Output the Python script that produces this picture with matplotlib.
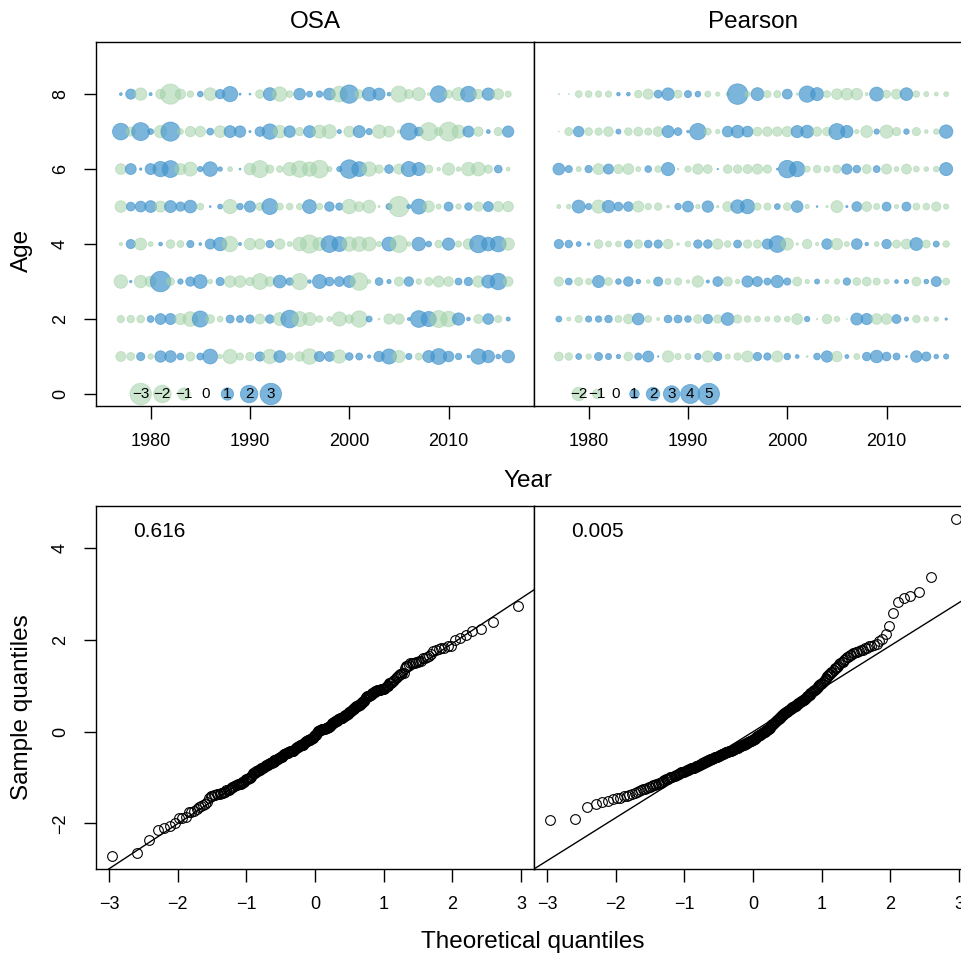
import matplotlib
matplotlib.use("Agg")
import matplotlib.pyplot as plt
import numpy as np
from statistics import NormalDist

plt.rcParams['font.family'] = ['Liberation Sans', 'DejaVu Sans']

years = list(range(1977, 2017))
ages = [1, 2, 3, 4, 5, 6, 7, 8]

# ---- OSA residuals (one list per age, years 1977..2016) ----
osa_age1 = [-0.65, -0.41, 0.44, -0.20, 0.85, 0.88, 0.30, -0.53, 0.32, 1.44,
            -0.13, -1.32, -0.34, -0.47, 0.56, -1.36, 0.91, -0.36, -0.59, -1.58,
            0.68, 0.62, -1.17, 0.38, 0.31, 0.07, 0.71, 1.49, -0.98, 0.25,
            -0.33, 0.94, 1.64, 0.74, 0.27, 0.05, 1.54, 1.02, 0.15, 1.06]
osa_age2 = [-0.35, -0.37, -0.39, 0.30, 0.77, 0.80, -0.83, -1.40, 1.70, -0.50,
            -0.22, 0.42, 0.33, 0.45, -0.66, 0.48, -1.10, 2.05, -1.45, -1.14,
            -0.29, -0.17, -1.33, -0.49, -1.76, 0.24, -0.02, -0.69, -0.72, 0.06,
            1.82, 1.50, -1.88, -1.59, 0.99, 0.09, -0.54, 0.75, -0.34, 0.11]
osa_age3 = [-1.21, 0.04, -1.03, -0.78, 2.75, -0.42, 0.19, 0.57, 1.25, -0.14,
            0.44, -0.86, -0.89, -0.47, -1.65, -0.60, 1.07, 0.36, -1.72, 0.08,
            1.28, 0.51, 0.63, 0.92, -2.00, -0.10, 0.39, 0.12, -0.54, 0.58,
            -0.21, -0.43, -0.81, -0.61, 0.31, 0.46, -0.84, 1.11, 1.77, -0.62]
osa_age4 = [-0.07, 0.55, -0.95, -0.15, 0.09, -0.48, -0.32, 0.34, 0.05, 0.66,
            1.18, -1.54, 0.06, -0.86, -0.69, 0.37, -0.71, -0.17, -1.22, -2.15,
            -1.13, 1.83, 1.45, -1.36, -1.41, -1.26, -0.19, 1.29, -1.87, -0.13,
            1.19, 0.22, -0.38, 0.98, -0.25, -0.74, 2.00, 1.23, 1.60, -1.01]
osa_age5 = [-0.88, 0.50, 0.77, 0.91, -0.80, 0.94, 0.56, 1.06, -0.30, 0.02,
            0.16, -1.32, 0.27, 0.82, -0.41, 1.66, -0.33, -0.29, -0.26, 1.26,
            -0.28, 0.59, 0.35, -1.37, -0.62, -1.09, -0.03, 0.24, -2.70, 0.11,
            1.49, -0.85, -0.18, 0.53, -0.20, 0.37, -0.57, 0.65, -0.68, -0.72]
osa_age6 = [-0.75, 0.78, 0.04, 0.79, 1.53, 1.86, -0.83, -1.28, 0.19, 1.39,
            0.13, -0.15, 0.02, -0.89, -1.89, -0.44, -0.28, -1.17, -1.75, -1.33,
            -2.05, -0.18, 0.18, 2.25, 1.44, -1.35, -0.47, 0.49, -0.67, 1.50,
            1.13, -0.43, -0.08, -0.99, -0.14, -1.21, -1.24, -0.45, 0.39, -0.10]
osa_age7 = [1.81, -0.54, 2.10, 0.22, -1.03, 2.40, -0.23, -0.70, -0.73, 0.31,
            -0.90, 0.93, 0.86, 0.03, 0.60, 1.55, -1.05, 0.87, -0.46, 0.92,
            -1.12, -1.27, 0.11, -0.76, 0.95, 0.26, -1.19, -0.79, -0.07, 1.87,
            0.50, -2.10, -0.42, -2.35, -1.14, 0.81, -0.58, 0.10, -0.45, 0.84]
osa_age8 = [0.05, 0.67, -1.00, 0.06, -0.61, -2.65, -0.69, -0.28, 0.21, -1.04,
            0.58, 1.52, 0.03, 0.02, -0.48, 1.08, -1.38, -0.29, 0.88, 0.23,
            0.27, 0.91, -1.62, 2.20, -0.49, 1.22, 0.94, 0.09, -1.68, -0.55,
            -1.10, -0.05, 1.79, -0.43, -1.13, 1.61, -0.59, 0.99, -0.76, -0.25]

# ---- Pearson residuals ----
pearson_age1 = [-0.87, -0.63, 0.38, -0.33, 0.71, 0.41, 0.21, -0.84, 0.56, 1.35,
                0.02, -1.45, -0.44, -0.42, 0.44, -1.41, 0.74, -0.31, -0.60, -1.37,
                0.77, 0.59, -1.33, 0.47, 0.16, -0.04, 0.50, 1.42, -1.21, 0.17,
                -0.40, 0.80, 1.74, 0.84, 0.53, 0.04, 1.47, 0.92, 0.23, 0.30]
pearson_age2 = [0.39, -0.18, -0.57, 0.42, 0.45, 0.62, -0.54, -1.02, 1.52, -0.51,
                -0.10, 0.65, 0.68, 0.48, -0.81, 0.96, -0.78, 1.78, -0.75, -0.48,
                -0.38, -0.29, -0.45, -0.36, -1.29, 0.32, -0.02, -0.99, -0.35, -0.01,
                1.57, 1.38, -1.25, -1.23, 0.87, 0.19, -0.62, -0.27, -0.25, 0.06]
pearson_age3 = [-0.96, 0.51, -0.72, -0.43, 1.62, -0.69, 0.35, 1.00, 0.25, -0.16,
                0.90, -0.41, -0.59, -0.14, -1.44, 0.11, 1.04, -0.93, -0.23, 1.40,
                1.08, 0.54, 1.67, 0.57, -0.90, -0.21, 0.27, -0.19, -0.32, 0.60,
                -0.66, -0.86, -0.56, -0.30, 0.16, 0.22, -0.88, 0.24, 1.11, -0.53]
pearson_age4 = [0.93, 0.63, 0.26, 0.08, -0.83, -0.39, -0.37, 0.72, -0.80, 0.66,
                0.75, -1.01, -0.08, -0.36, 0.78, 0.81, -1.17, -0.50, 0.69, -0.77,
                -0.74, 1.16, 3.05, -1.65, -0.06, -0.98, -0.12, 1.21, -1.40, -0.28,
                1.26, 0.13, -0.26, 0.97, -0.71, -1.13, 1.82, -0.68, 0.40, -0.47]
pearson_age5 = [-0.17, -0.24, 1.86, 0.43, -1.93, 1.72, 0.85, 1.01, -1.36, -0.46,
                -0.61, -0.09, 0.46, 1.31, -0.22, 1.44, -0.07, -1.09, 2.02, 2.30,
                -0.58, -0.55, 0.37, -0.65, 1.49, -0.20, 0.03, -0.05, -1.58, 0.05,
                1.05, -1.05, -0.43, 0.88, -0.19, 0.89, -0.52, -0.49, -0.95, -0.31]
pearson_age6 = [1.53, 0.56, -0.30, 0.60, -1.32, 1.12, -0.92, -1.28, -0.29, 0.49,
                -0.48, 1.92, -0.03, -0.44, -1.20, -0.85, 0.02, -0.82, -0.79, -0.89,
                -1.16, -0.76, 0.04, 3.38, 2.58, -0.42, -0.62, -0.40, -0.73, 1.17,
                0.64, -0.88, 0.52, -1.12, -0.26, -1.08, -0.38, -0.24, -0.36, 1.89]
pearson_age7 = [-0.01, -0.70, 1.22, -0.67, -0.60, -1.02, 0.28, -0.64, -0.87, -0.57,
                -1.04, 1.58, 0.67, 0.07, 2.95, -0.54, -0.22, 1.27, 1.75, 1.30,
                -0.84, -0.99, -0.97, -1.19, 1.63, 1.79, -0.94, -0.80, 2.83, 1.68,
                -0.21, -1.54, 0.31, -1.91, -0.78, 0.33, -0.75, -0.15, -0.35, 1.97]
pearson_age8 = [-0.02, -0.01, -0.51, -0.49, -0.45, -0.44, 0.14, 0.15, -0.63, -1.15,
                0.70, 1.71, -0.72, 0.55, 0.36, -0.41, -0.20, -0.13, 4.63, -0.32,
                1.83, -0.59, -0.56, 1.07, -0.06, 2.91, 1.87, -0.53, -1.24, -1.50,
                -1.47, -0.10, 2.14, -0.68, -1.11, 1.77, -0.47, -0.28, -0.16, -0.27]

panel_titles = ["OSA", "Pearson"]
pvalue_labels = ["0.616", "0.005"]

osa = np.array([osa_age1, osa_age2, osa_age3, osa_age4,
                osa_age5, osa_age6, osa_age7, osa_age8])
pearson = np.array([pearson_age1, pearson_age2, pearson_age3, pearson_age4,
                    pearson_age5, pearson_age6, pearson_age7, pearson_age8])

# ---- styling ----
BLUE = (0.27, 0.59, 0.80, 0.70)
GREEN = (0.63, 0.82, 0.65, 0.55)
DMAX_PX = 20.5
PX2PT = 0.72
TICK_FS = 13
LAB_FS = 17.5

W, H = 961, 958
fig = plt.figure(figsize=(W / 100, H / 100), dpi=100)


def ax_at(x0, y0, x1, y1):
    return fig.add_axes([x0 / W, (H - y1) / H, (x1 - x0) / W, (y1 - y0) / H])


ax_b = [ax_at(96, 42, 534, 406), ax_at(534, 42, 972, 406)]
ax_q = [ax_at(96, 506, 534, 869), ax_at(534, 506, 972, 869)]


def style(ax):
    for s in ax.spines.values():
        s.set_linewidth(1.0)
    ax.tick_params(direction='out', length=9, width=1.0, labelsize=TICK_FS, pad=10.5)


# ---- bubble plots ----
for ax, Z in zip(ax_b, [osa, pearson]):
    zmax = np.abs(Z).max()
    X, Y = np.meshgrid(years, ages)
    d = DMAX_PX * PX2PT * np.sqrt(np.abs(Z) / zmax)
    cols = [GREEN if v < 0 else BLUE for v in Z.ravel()]
    ax.scatter(X.ravel(), Y.ravel(), s=d.ravel() ** 2, c=cols,
               edgecolors=cols, linewidths=0.6, zorder=2)
    # legend of bubble sizes
    lv = np.arange(np.floor(Z.min()), np.ceil(Z.max()) + 1)
    lx = np.linspace(1979.0, 1992.1, len(lv))
    ld = DMAX_PX * PX2PT * np.sqrt(np.abs(lv) / zmax)
    lc = [GREEN if v < 0 else BLUE for v in lv]
    ax.scatter(lx, np.zeros_like(lx), s=ld ** 2, c=lc, edgecolors=lc,
               linewidths=0.6, zorder=2)
    for xx, v in zip(lx, lv):
        ax.text(xx, 0, f"{int(v)}".replace("-", "\u2212"), ha='center',
                va='center', fontsize=11, zorder=3)
    ax.set_xlim(1974.5, 2018.6)
    ax.set_ylim(-0.32, 9.39)
    ax.set_xticks([1980, 1990, 2000, 2010])
    style(ax)

ax_b[0].set_yticks([0, 2, 4, 6, 8])
for lbl in ax_b[0].get_yticklabels():
    lbl.set_rotation(90)
    lbl.set_va('center')
ax_b[1].tick_params(left=False, labelleft=False)

# ---- QQ plots ----
nd = NormalDist()
allvals = np.concatenate([osa.ravel(), pearson.ravel()])
yr = allvals.max() - allvals.min()
ylim = (allvals.min() - 0.04 * yr, allvals.max() + 0.04 * yr)
for ax, Z, ptxt in zip(ax_q, [osa, pearson], pvalue_labels):
    z = np.sort(Z.ravel())
    n = len(z)
    q = np.array([nd.inv_cdf((i - 0.5) / n) for i in range(1, n + 1)])
    ax.plot(q, z, linestyle='none', marker='o', markersize=7,
            markerfacecolor='none', markeredgecolor='black',
            markeredgewidth=0.8, zorder=3)
    q1, q3 = np.quantile(z, [0.25, 0.75])
    t1, t3 = nd.inv_cdf(0.25), nd.inv_cdf(0.75)
    ax.axline((t1, q1), (t3, q3), color='black', linewidth=1.0, zorder=2)
    xr = q.max() - q.min()
    ax.set_xlim(q.min() - 0.04 * xr, q.max() + 0.04 * xr)
    ax.set_ylim(*ylim)
    ax.set_xticks([-3, -2, -1, 0, 1, 2, 3])
    ax.text(0.0845, 0.931, ptxt, transform=ax.transAxes, ha='left',
            va='center', fontsize=15)
    style(ax)

ax_q[0].set_yticks([-2, 0, 2, 4])
for lbl in ax_q[0].get_yticklabels():
    lbl.set_rotation(90)
    lbl.set_va('center')
ax_q[1].tick_params(left=False, labelleft=False)

# ---- titles and axis labels ----
fig.text(315 / W, 1 - 22 / H, panel_titles[0], ha='center', va='center', fontsize=LAB_FS)
fig.text(753 / W, 1 - 22 / H, panel_titles[1], ha='center', va='center', fontsize=LAB_FS)
fig.text(528 / W, 1 - 481 / H, "Year", ha='center', va='center', fontsize=LAB_FS)
fig.text(22 / W, 1 - 250 / H, "Age", ha='center', va='center', fontsize=LAB_FS, rotation=90)
fig.text(533 / W, 1 - 942 / H, "Theoretical quantiles", ha='center', va='center', fontsize=LAB_FS)
fig.text(22 / W, 1 - 707 / H, "Sample quantiles", ha='center', va='center', fontsize=LAB_FS, rotation=90)

fig.savefig("out.png", dpi=100)
